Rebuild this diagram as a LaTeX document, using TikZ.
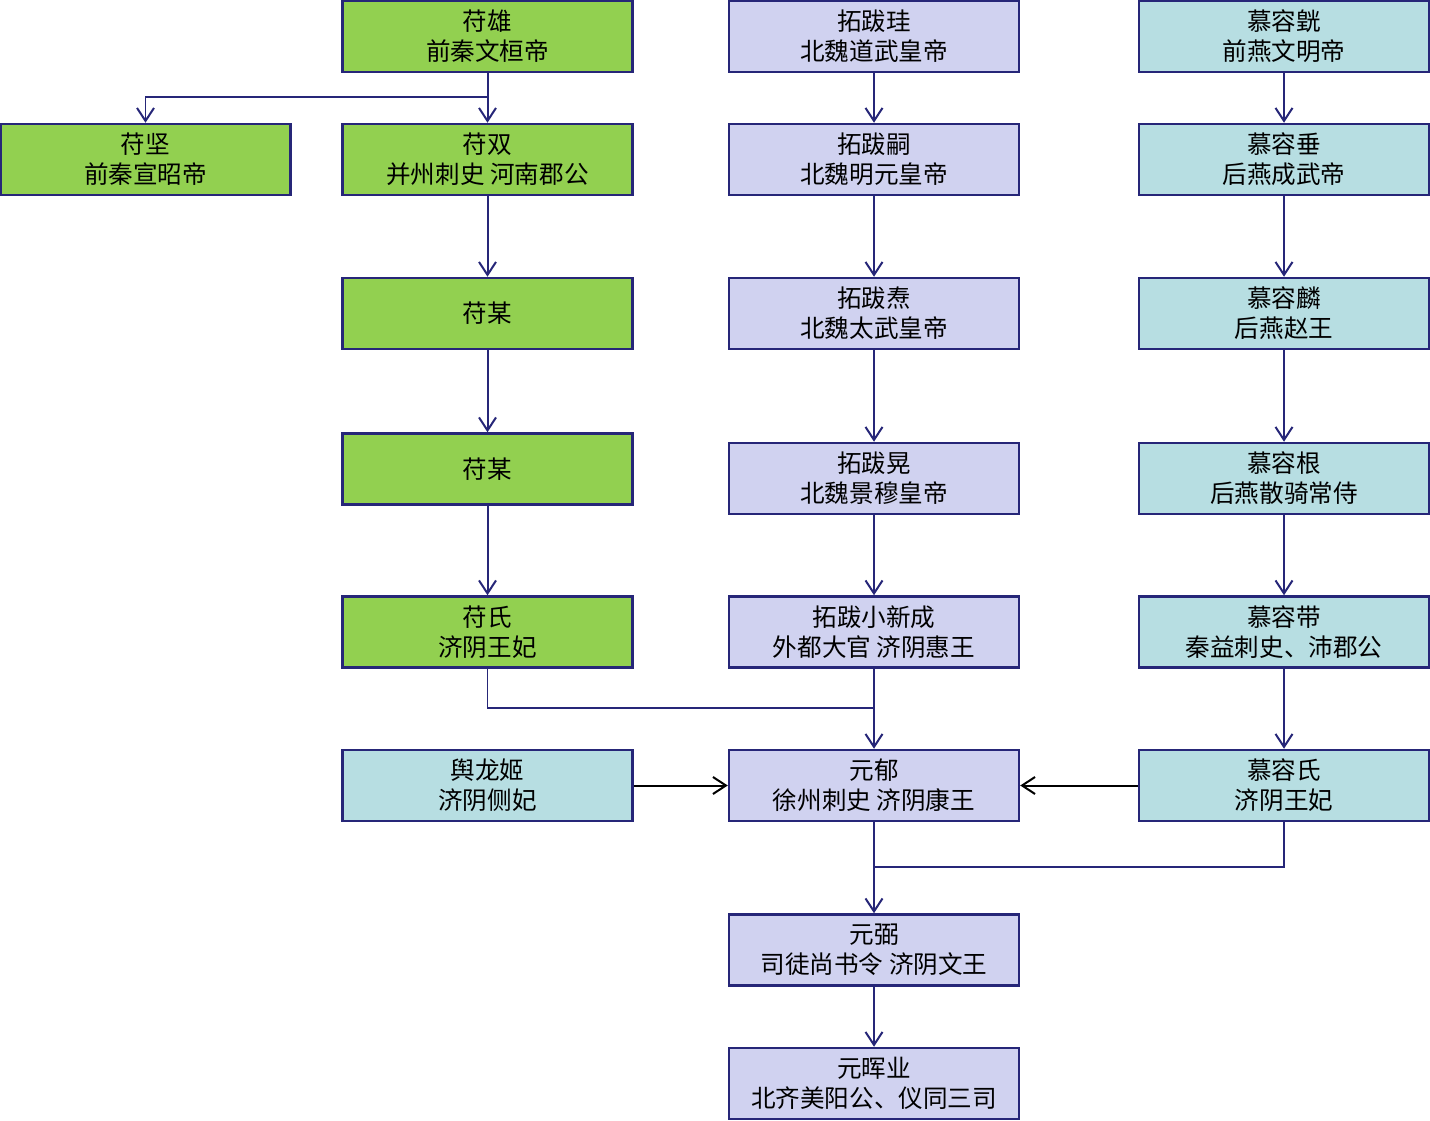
\documentclass[tikz,border=0pt]{standalone}
\usepackage{fontspec}
\setmainfont{Noto Sans CJK SC}
\usetikzlibrary{arrows.meta}
\definecolor{famgreen}{RGB}{146,208,80}
\definecolor{famlav}{RGB}{208,210,240}
\definecolor{famcyan}{RGB}{183,222,226}
\definecolor{famnavy}{RGB}{38,38,120}
\tikzset{
  box/.style={
    rectangle,
    draw=famnavy,
    line width=0.05cm,
    minimum width=5.8cm,
    minimum height=1.42cm,
    inner sep=0pt,
    align=center,
    font=\fontsize{14}{17}\selectfont
  },
  box-green/.style={box, fill=famgreen},
  box-lav/.style={box, fill=famlav},
  box-cyan/.style={box, fill=famcyan},
  link/.style={
    draw=famnavy,
    line width=0.04cm,
    -{Straight Barb[length=2.6mm,width=3.4mm,line width=0.04cm]}
  },
  link-thin/.style={link, line width=0.025cm},
  link-black/.style={link, draw=black}
}

\begin{document}
\begin{tikzpicture}[x=0.02cm,y=-0.02cm]
  \useasboundingbox (0,0) rectangle (1430,1121);
  % Fu family
  \node[box-green] (fuxiong)   at (487.5,36.5)  {苻雄\\前秦文桓帝};
  \node[box-green] (fujian)    at (145.5,159.5) {苻坚\\前秦宣昭帝};
  \node[box-green] (fushuang)  at (487.5,159.5) {苻双\\并州刺史 河南郡公};
  \node[box-green] (fumou1)    at (487.5,313.5) {苻某};
  \node[box-green] (fumou2)    at (487.5,469)   {苻某};
  \node[box-green] (fushi)     at (487.5,632)   {苻氏\\济阴王妃};
  \node[box-cyan]  (yulongji)  at (487.5,785.5) {舆龙姬\\济阴侧妃};
  % Tuoba family
  \node[box-lav] (tuobagui)     at (874,36.5)   {拓跋珪\\北魏道武皇帝};
  \node[box-lav] (tuobasi)      at (874,159.5)  {拓跋嗣\\北魏明元皇帝};
  \node[box-lav] (tuobatao)     at (874,313.5)  {拓跋焘\\北魏太武皇帝};
  \node[box-lav] (tuobahuang)   at (874,478.5)  {拓跋晃\\北魏景穆皇帝};
  \node[box-lav] (xiaoxincheng) at (874,632)    {拓跋小新成\\外都大官 济阴惠王};
  \node[box-lav] (yuanyu)       at (874,785.5)  {元郁\\徐州刺史 济阴康王};
  \node[box-lav] (yuanbi)       at (874,950)    {元弼\\司徒尚书令 济阴文王};
  \node[box-lav] (yuanhuiye)    at (874,1083.5) {元晖业\\北齐美阳公、仪同三司};
  % Murong family
  \node[box-cyan] (murongjun)   at (1284,36.5)  {慕容皝\\前燕文明帝};
  \node[box-cyan] (murongchui)  at (1284,159.5) {慕容垂\\后燕成武帝};
  \node[box-cyan] (muronglin)   at (1284,313.5) {慕容麟\\后燕赵王};
  \node[box-cyan] (muronggen)   at (1284,478.5) {慕容根\\后燕散骑常侍};
  \node[box-cyan] (murongdai)   at (1284,632)   {慕容带\\秦益刺史、沛郡公};
  \node[box-cyan] (murongshi)   at (1284,785.5) {慕容氏\\济阴王妃};
  % joints
  \coordinate (split) at (487.5,97);
  \coordinate (join1) at (874,708);
  \coordinate (join2) at (874,867);
  % descent lines
  \foreach \a/\b in {fuxiong/fushuang, fushuang/fumou1, fumou1/fumou2,
      fumou2/fushi, tuobagui/tuobasi, tuobasi/tuobatao, tuobatao/tuobahuang,
      tuobahuang/xiaoxincheng, xiaoxincheng/yuanyu, yuanyu/yuanbi,
      yuanbi/yuanhuiye, murongjun/murongchui, murongchui/muronglin,
      muronglin/muronggen, muronggen/murongdai, murongdai/murongshi} {
    \draw[link] (\a) -- (\b);
  }
  \draw[link-thin] (split) -| (fujian);
  \draw[link-thin, -] (fushi) |- (join1);
  \draw[link-thin, -] (murongshi) |- (join2);
  % spouses
  \draw[link-black] (yulongji) -- (yuanyu);
  \draw[link-black] (murongshi) -- (yuanyu);
\end{tikzpicture}
\end{document}
